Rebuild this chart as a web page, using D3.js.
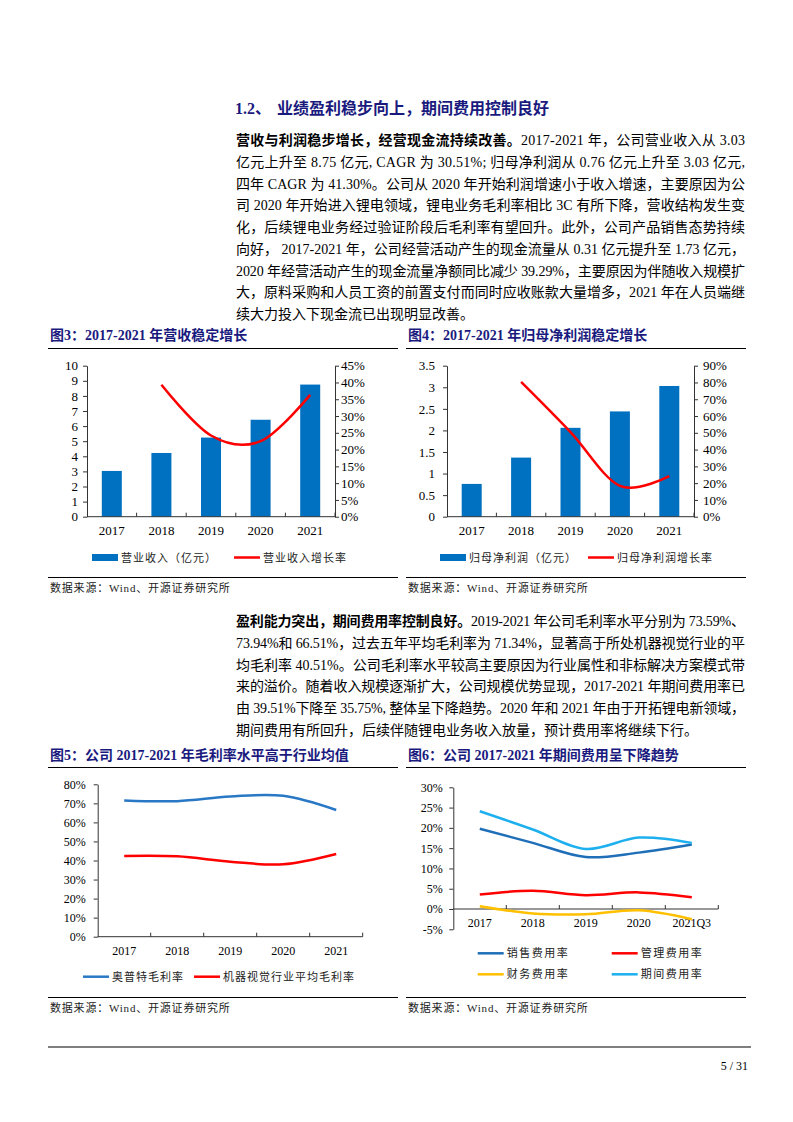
<!DOCTYPE html>
<html><head><meta charset="utf-8">
<script src="https://cdn.jsdelivr.net/npm/d3@7"></script>
<style>body{margin:0;background:#fff} svg{display:block}</style>
</head><body><svg id="page" width="793" height="1122"></svg>
<script>
// ---------------- data ----------------
const years = ["2017", "2018", "2019", "2020", "2021"];
const revenue = [3.03, 4.22, 5.24, 6.42, 8.75];          // 营业收入（亿元）
const revenueGrowth = [null, 39.3, 24.2, 22.5, 36.3];     // 营业收入增长率 %
const revenueTicksL = [0,1,2,3,4,5,6,7,8,9,10];
const revenueTicksR = [0,5,10,15,20,25,30,35,40,45];

const netProfit = [0.76, 1.37, 2.06, 2.44, 3.03];         // 归母净利润（亿元）
const profitGrowth = [null, 80.3, 50.4, 18.4, 24.2];      // 归母净利润增长率 %
const profitTicksL = [0,0.5,1,1.5,2,2.5,3,3.5];
const profitTicksR = [0,10,20,30,40,50,60,70,80,90];

const marginCompany = [71.50, 71.16, 73.59, 73.94, 66.51];  // 奥普特毛利率 %
const marginIndustry = [42.4, 42.2, 39.4, 38.0, 43.4];      // 机器视觉行业平均毛利率 %
const marginTicks = [0,10,20,30,40,50,60,70,80];

const expYears = ["2017", "2018", "2019", "2020", "2021Q3"];
const salesExp = [19.8, 16.3, 12.8, 13.9, 15.9];   // 销售费用率
const mgmtExp = [3.6, 4.5, 3.4, 4.1, 2.9];         // 管理费用率
const finExp = [0.7, -1.1, -1.3, -0.3, -2.5];      // 财务费用率
const periodExp = [24.1, 19.6, 14.8, 17.6, 16.3];  // 期间费用率
const expTicks = [-5,0,5,10,15,20,25,30];

// ---------------- text ----------------
const heading = ["1.2、", "业绩盈利稳步向上，期间费用控制良好"];
const para1 = [
  [["营收与利润稳步增长，经营现金流持续改善。",1],["2017-2021 年，公司营业收入从 3.03",0]],
  [["亿元上升至 8.75 亿元, CAGR 为 30.51%; 归母净利润从 0.76 亿元上升至 3.03 亿元,",0]],
  [["四年 CAGR 为 41.30%。公司从 2020 年开始利润增速小于收入增速，主要原因为公",0]],
  [["司 2020 年开始进入锂电领域，锂电业务毛利率相比 3C 有所下降，营收结构发生变",0]],
  [["化，后续锂电业务经过验证阶段后毛利率有望回升。此外，公司产品销售态势持续",0]],
  [["向好， 2017-2021 年，公司经营活动产生的现金流量从 0.31 亿元提升至 1.73 亿元，",0]],
  [["2020 年经营活动产生的现金流量净额同比减少 39.29%，主要原因为伴随收入规模扩",0]],
  [["大，原料采购和人员工资的前置支付而同时应收账款大量增多，2021 年在人员端继",0]],
  [["续大力投入下现金流已出现明显改善。",0]]
];
const para2 = [
  [["盈利能力突出，期间费用率控制良好。",1],["2019-2021 年公司毛利率水平分别为 73.59%、",0]],
  [["73.94%和 66.51%，过去五年平均毛利率为 71.34%，显著高于所处机器视觉行业的平",0]],
  [["均毛利率 40.51%。公司毛利率水平较高主要原因为行业属性和非标解决方案模式带",0]],
  [["来的溢价。随着收入规模逐渐扩大，公司规模优势显现，2017-2021 年期间费用率已",0]],
  [["由 39.51%下降至 35.75%, 整体呈下降趋势。2020 年和 2021 年由于开拓锂电新领域，",0]],
  [["期间费用有所回升，后续伴随锂电业务收入放量，预计费用率将继续下行。",0]]
];
const figTitles = [
  "图3：2017-2021 年营收稳定增长",
  "图4：2017-2021 年归母净利润稳定增长",
  "图5：公司 2017-2021 年毛利率水平高于行业均值",
  "图6：公司 2017-2021 年期间费用呈下降趋势"
];
const sourceText = "数据来源：Wind、开源证券研究所";
const pageNo = "5 / 31";

// ---------------- drawing ----------------
const SERIF = "'Liberation Serif','Times New Roman','Noto Sans CJK SC',serif";
const NAVY = "#1a1a7e";
const AXIS = "#333";
const svg = d3.select("#page");
svg.append("rect").attr("width", 793).attr("height", 1122).attr("fill", "#fff");

svg.append("text").attr("x", 235).attr("y", 114).attr("font-family", SERIF)
  .attr("font-size", 16).attr("font-weight", "bold").attr("fill", NAVY).text(heading[0]);
svg.append("text").attr("x", 277).attr("y", 114).attr("font-family", SERIF)
  .attr("font-size", 16).attr("font-weight", "bold").attr("fill", NAVY).text(heading[1]);

function drawPara(lines, x, y0, lh, width) {
  lines.forEach((segs, i) => {
    const t = svg.append("text").attr("x", x).attr("y", y0 + i * lh)
      .attr("font-family", SERIF).attr("font-size", 14).attr("fill", "#000");
    segs.forEach(([s, b]) => t.append("tspan").attr("font-weight", b ? "bold" : "normal").text(s));
    if (i < lines.length - 1) t.attr("textLength", width).attr("lengthAdjust", "spacing");
  });
}
drawPara(para1, 236, 145, 21.75, 509);
drawPara(para2, 236, 626, 21.8, 509);

function frame(x0, x1, titleY, lineY, srcLineY, srcY, title) {
  svg.append("text").attr("x", x0 + 2).attr("y", titleY).attr("font-family", SERIF)
    .attr("font-size", 14).attr("font-weight", "bold").attr("fill", NAVY).text(title);
  svg.append("line").attr("x1", x0).attr("x2", x1).attr("y1", lineY).attr("y2", lineY)
    .attr("stroke", "#000").attr("stroke-width", 1);
  svg.append("line").attr("x1", x0).attr("x2", x1).attr("y1", srcLineY).attr("y2", srcLineY)
    .attr("stroke", "#000").attr("stroke-width", 1);
  svg.append("text").attr("x", x0 + 2).attr("y", srcY).attr("font-family", SERIF)
    .attr("font-size", 11).attr("letter-spacing", 0.8).attr("fill", "#222").text(sourceText);
}
frame(48, 398, 340, 348.5, 577.5, 592, figTitles[0]);
frame(406, 746, 340, 348.5, 577.5, 592, figTitles[1]);
frame(48, 398, 760, 767.5, 997.5, 1012, figTitles[2]);
frame(406, 746, 760, 767.5, 997.5, 1012, figTitles[3]);

function styleAxis(g, fs) {
  g.attr("font-family", SERIF).attr("font-size", fs);
  g.selectAll("path").attr("stroke", AXIS);
  g.selectAll("line").attr("stroke", AXIS);
  g.selectAll("text").attr("fill", "#000");
}

function xAxisBand(x, yPos, labelY, fs) {
  const g = svg.append("g");
  const [a, b] = x.range();
  g.append("line").attr("x1", a).attr("x2", b).attr("y1", yPos).attr("y2", yPos)
    .attr("stroke", AXIS);
  x.domain().forEach(d => {
    const bx = x(d) + x.bandwidth();
    g.append("line").attr("x1", bx).attr("x2", bx).attr("y1", yPos).attr("y2", yPos - 4)
      .attr("stroke", AXIS);
  });
  x.domain().forEach(d => {
    g.append("text").attr("x", x(d) + x.bandwidth() / 2).attr("y", labelY)
      .attr("text-anchor", "middle").attr("font-family", SERIF).attr("font-size", fs)
      .attr("fill", "#000").text(d);
  });
}

function comboChart(opts) {
  const x = d3.scaleBand().domain(years).range([opts.x0, opts.x1]).padding(0);
  const yL = d3.scaleLinear().domain([0, opts.maxL]).range([516.7, 365.7]);
  const yR = d3.scaleLinear().domain([0, opts.maxR]).range([516.7, 365.7]);
  const bw = 20;
  svg.append("g").selectAll("rect").data(opts.bars).join("rect")
    .attr("x", (d, i) => x(years[i]) + x.bandwidth() / 2 - bw / 2)
    .attr("y", d => yL(d)).attr("width", bw).attr("height", d => yL(0) - yL(d))
    .attr("fill", "#0070C0");
  const gl = svg.append("g").attr("transform", `translate(${opts.x0},0)`)
    .call(d3.axisLeft(yL).tickValues(opts.ticksL).tickSize(4).tickSizeOuter(0).tickPadding(opts.padL)
      .tickFormat(d => String(d)));
  styleAxis(gl, 13);
  const gr = svg.append("g").attr("transform", `translate(${opts.x1},0)`)
    .call(d3.axisRight(yR).tickValues(opts.ticksR).tickSize(4).tickSizeOuter(0).tickPadding(opts.padR)
      .tickFormat(d => d + "%"));
  styleAxis(gr, 13);
  xAxisBand(x, 516.7, 535, 13);
  const pts = opts.line.map((v, i) => [x(years[i]) + x.bandwidth() / 2, v]).filter(p => p[1] != null);
  svg.append("path").datum(pts)
    .attr("d", d3.line().x(p => p[0]).y(p => yR(p[1])).curve(d3.curveCardinal.tension(0)))
    .attr("fill", "none").attr("stroke", "#FF0000").attr("stroke-width", 2.5);
  // legend
  const ly = 557.5;
  svg.append("rect").attr("x", opts.lg[0]).attr("y", ly - 3.5).attr("width", 26).attr("height", 7).attr("fill", "#0070C0");
  svg.append("text").attr("x", opts.lg[0] + 29).attr("y", ly + 4).attr("font-family", SERIF)
    .attr("font-size", 11).attr("letter-spacing", 1).attr("fill", "#222").text(opts.names[0]);
  svg.append("line").attr("x1", opts.lg[1]).attr("x2", opts.lg[1] + 26).attr("y1", ly).attr("y2", ly)
    .attr("stroke", "#FF0000").attr("stroke-width", 2.5);
  svg.append("text").attr("x", opts.lg[1] + 29).attr("y", ly + 4).attr("font-family", SERIF)
    .attr("font-size", 11).attr("letter-spacing", 1).attr("fill", "#222").text(opts.names[1]);
}

comboChart({x0: 87, x1: 335, maxL: 10, maxR: 45, ticksL: revenueTicksL, ticksR: revenueTicksR,
  padL: 5, padR: 2, bars: revenue, line: revenueGrowth, lg: [92, 234],
  names: ["营业收入（亿元）", "营业收入增长率"]});
comboChart({x0: 447, x1: 694, maxL: 3.5, maxR: 90, ticksL: profitTicksL, ticksR: profitTicksR,
  padL: 8, padR: 5, bars: netProfit, line: profitGrowth, lg: [440, 588],
  names: ["归母净利润（亿元）", "归母净利润增长率"]});

// Fig 5
(function () {
  const x = d3.scaleBand().domain(years).range([97.7, 362.7]).padding(0);
  const y = d3.scaleLinear().domain([0, 80]).range([936.7, 784.3]);
  const g = svg.append("g").attr("transform", "translate(97.7,0)")
    .call(d3.axisLeft(y).tickValues(marginTicks).tickSize(4).tickSizeOuter(0).tickPadding(8).tickFormat(d => d + "%"));
  styleAxis(g, 12);
  xAxisBand(x, 936.7, 955, 12);
  const line = d3.line().x((d, i) => x(years[i]) + x.bandwidth() / 2).y(d => y(d)).curve(d3.curveCardinal.tension(0));
  svg.append("path").attr("d", line(marginCompany)).attr("fill", "none").attr("stroke", "#2878C5").attr("stroke-width", 2.5);
  svg.append("path").attr("d", line(marginIndustry)).attr("fill", "none").attr("stroke", "#FF0000").attr("stroke-width", 2.5);
  const ly = 976.7;
  [[83, "#2878C5", "奥普特毛利率"], [194, "#FF0000", "机器视觉行业平均毛利率"]].forEach(([lx, c, n]) => {
    svg.append("line").attr("x1", lx).attr("x2", lx + 26).attr("y1", ly).attr("y2", ly).attr("stroke", c).attr("stroke-width", 2.5);
    svg.append("text").attr("x", lx + 29).attr("y", ly + 4).attr("font-family", SERIF)
      .attr("font-size", 11).attr("letter-spacing", 1).attr("fill", "#222").text(n);
  });
})();

// Fig 6
(function () {
  const x = d3.scaleBand().domain(expYears).range([453.3, 718.3]).padding(0);
  const y = d3.scaleLinear().domain([-5, 30]).range([929.3, 787.3]);
  const g = svg.append("g").attr("transform", "translate(453.3,0)")
    .call(d3.axisLeft(y).tickValues(expTicks).tickSize(4).tickSizeOuter(0).tickPadding(6.5).tickFormat(d => d + "%"));
  styleAxis(g, 12);
  xAxisBand(x, y(0), 927, 12);
  const line = d3.line().x((d, i) => x(expYears[i]) + x.bandwidth() / 2).y(d => y(d)).curve(d3.curveCardinal.tension(0));
  const series = [
    [salesExp, "#1F6FB8", "销售费用率", 477.7, 953.3],
    [mgmtExp, "#FF0000", "管理费用率", 611.7, 953.3],
    [finExp, "#FFC000", "财务费用率", 477.7, 974.3],
    [periodExp, "#1EB0EE", "期间费用率", 611.7, 974.3]
  ];
  series.forEach(([vals, c]) => {
    svg.append("path").attr("d", line(vals)).attr("fill", "none").attr("stroke", c).attr("stroke-width", 2.5);
  });
  series.forEach(([vals, c, n, lx, ly]) => {
    svg.append("line").attr("x1", lx).attr("x2", lx + 26).attr("y1", ly).attr("y2", ly).attr("stroke", c).attr("stroke-width", 2.5);
    svg.append("text").attr("x", lx + 29).attr("y", ly + 4).attr("font-family", SERIF)
      .attr("font-size", 11).attr("letter-spacing", 1.5).attr("fill", "#222").text(n);
  });
})();

// footer
svg.append("line").attr("x1", 48).attr("x2", 751).attr("y1", 1047).attr("y2", 1047).attr("stroke", "#000").attr("stroke-width", 1.2);
svg.append("text").attr("x", 748).attr("y", 1070).attr("text-anchor", "end").attr("font-family", SERIF)
  .attr("font-size", 12).attr("fill", "#000").text(pageNo);
</script>
</body></html>
